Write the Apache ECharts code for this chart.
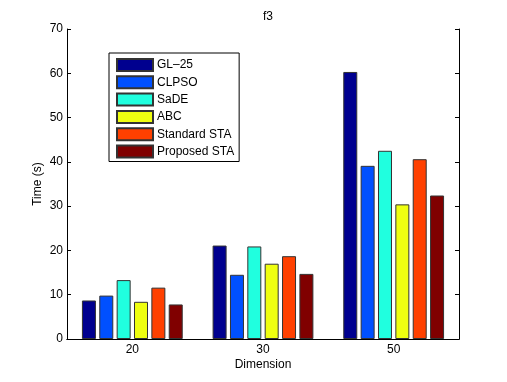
<!DOCTYPE html>
<html>
<head>
<meta charset="utf-8">
<script src="https://cdn.jsdelivr.net/npm/echarts@6/dist/echarts.min.js"></script>
<style>
  html, body { margin: 0; padding: 0; background: #fff; }
  #main { width: 507px; height: 382px; }
</style>
</head>
<body>
<div id="main"></div>
<script>
// 数据
var dims = ['20', '30', '50'];
var names = ['GL\u201325', 'CLPSO', 'SaDE', 'ABC', 'Standard STA', 'Proposed STA'];
var colors = ['#00008f', '#0050ff', '#20ffdf', '#efff10', '#ff4000', '#800000'];
var gl25 = [8.7, 21.1, 60.3];
var clpso = [9.8, 14.5, 39.1];
var sade = [13.3, 20.9, 42.5];
var abc = [8.4, 17.0, 30.4];
var standardSta = [11.6, 18.7, 40.6];
var proposedSta = [7.8, 14.7, 32.4];
var values = [gl25, clpso, sade, abc, standardSta, proposedSta];
var yTicks = [0, 10, 20, 30, 40, 50, 60, 70];

var font = 'Liberation Sans, Arial, Helvetica, sans-serif';
var chart = echarts.init(document.getElementById('main'));

var series = [];
for (var i = 0; i < names.length; i++) {
    series.push({
        name: names[i],
        type: 'bar',
        data: values[i],
        barWidth: 14,
        barGap: '24%',
        itemStyle: { color: colors[i], borderColor: '#333', borderWidth: 1 }
    });
}

var option = {
    backgroundColor: '#fff',
    animation: false,
    title: {
        text: 'f3', left: 263, top: 6, textAlign: 'center',
        textStyle: { fontFamily: font, fontSize: 12, fontWeight: 'normal', color: '#000' }
    },
    legend: {
        orient: 'vertical', left: 109, top: 53,
        padding: [5, 5, 3, 7],
        itemWidth: 36, itemHeight: 12, itemGap: 3.3,
        icon: 'rect',
        borderColor: '#000', borderWidth: 1,
        backgroundColor: '#fff',
        textStyle: { fontFamily: font, fontSize: 12, lineHeight: 12, color: '#000', padding: [0, 0, 0, -1] },
        data: names
    },
    grid: { left: 67, right: 48, top: 29, bottom: 43 },
    xAxis: [{
        type: 'category', data: dims,
        name: 'Dimension', nameLocation: 'middle', nameGap: 20, nameMoveOverlap: false,
        nameTextStyle: { fontFamily: font, fontSize: 12, color: '#000' },
        axisLine: { lineStyle: { color: '#000' } },
        axisTick: { inside: true, alignWithLabel: true, length: 4, lineStyle: { color: '#000' } },
        axisLabel: { fontFamily: font, fontSize: 12, color: '#000', margin: 5 }
    }, {
        type: 'category', data: dims, position: 'top',
        axisLine: { lineStyle: { color: '#000' } },
        axisTick: { inside: true, alignWithLabel: true, length: 4, lineStyle: { color: '#000' } },
        axisLabel: { show: false }
    }],
    yAxis: [{
        type: 'value', min: yTicks[0], max: yTicks[yTicks.length - 1], interval: 10,
        name: 'Time (s)', nameLocation: 'middle', nameGap: 23, nameMoveOverlap: false,
        nameTextStyle: { fontFamily: font, fontSize: 12, color: '#000' },
        axisLine: { show: true, lineStyle: { color: '#000' } },
        axisTick: { show: true, inside: true, length: 4, lineStyle: { color: '#000' } },
        axisLabel: { fontFamily: font, fontSize: 12, color: '#000', margin: 4 },
        splitLine: { show: false }
    }, {
        type: 'value', min: yTicks[0], max: yTicks[yTicks.length - 1], interval: 10,
        position: 'right',
        axisLine: { show: true, lineStyle: { color: '#000' } },
        axisTick: { show: true, inside: true, length: 4, lineStyle: { color: '#000' } },
        axisLabel: { show: false },
        splitLine: { show: false }
    }],
    series: series
};

chart.setOption(option);
</script>
</body>
</html>
